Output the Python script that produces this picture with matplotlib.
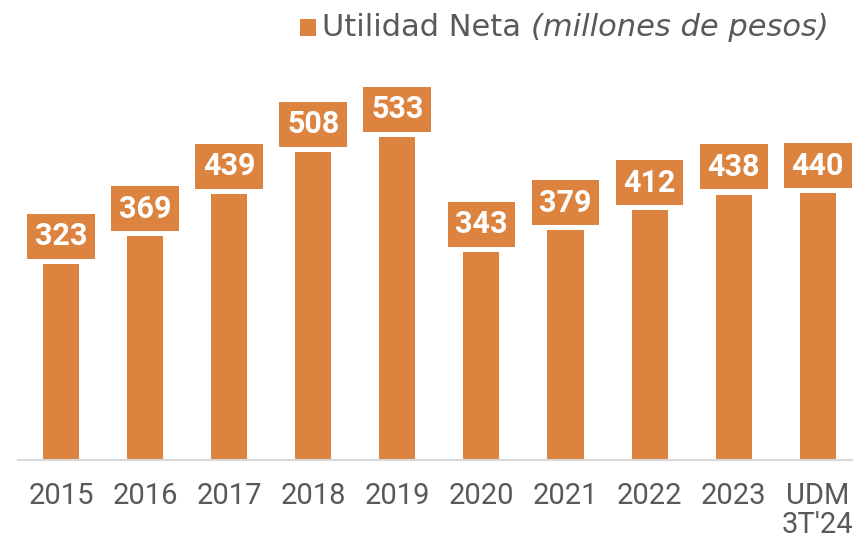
import matplotlib
matplotlib.use('Agg')
import matplotlib.pyplot as plt
from matplotlib.patches import Rectangle
from matplotlib import font_manager

years = ['2015', '2016', '2017', '2018', '2019', '2020', '2021', '2022', '2023', 'UDM\n3T\'24']
utilidad = [323, 369, 439, 508, 533, 343, 379, 412, 438, 440]

orange = '#DC843F'
gray = '#595959'

names = set(f.name for f in font_manager.fontManager.ttflist)
narrow = 'Liberation Sans Narrow' if 'Liberation Sans Narrow' in names else 'Roboto'

fig = plt.figure(figsize=(8.54, 5.48), dpi=100)
ax = fig.add_axes([18/854, 88/548, 836/854, 460/548])

x = list(range(len(years)))
ax.bar(x, utilidad, width=0.43, color=orange, zorder=2)
ax.set_xlim(-0.51, 9.43)
ax.set_ylim(0, 759)

for i, v in enumerate(utilidad):
    ax.annotate(str(v), (i, v), xytext=(0, 20), textcoords='offset points',
                ha='center', va='center', color='white', fontsize=22,
                fontweight='bold', family=narrow,
                bbox=dict(boxstyle='square,pad=0.25', fc=orange, ec='none'))

for s in ['top', 'right', 'left']:
    ax.spines[s].set_visible(False)
ax.spines['bottom'].set_color('#D9D9D9')
ax.spines['bottom'].set_linewidth(1.5)
ax.set_yticks([])
ax.set_xticks(x)
ax.set_xticklabels(years, fontsize=21, color=gray, family=narrow, linespacing=1.05)
ax.tick_params(axis='x', length=0, pad=16)

# legend drawn by hand
fig.patches.append(Rectangle((300/854, (548-36)/548), 16/854, 17/548,
                             transform=fig.transFigure, fc=orange, ec='none'))
t1 = fig.text(322/854, (548-27)/548, 'Utilidad Neta ', fontsize=22, color=gray,
              va='center', ha='left')
fig.canvas.draw()
bb = t1.get_window_extent()
fig.text(bb.x1/854, (548-27)/548, '(millones de pesos)', fontsize=22, color=gray,
         style='italic', va='center', ha='left')

fig.savefig('out.png', dpi=100)
